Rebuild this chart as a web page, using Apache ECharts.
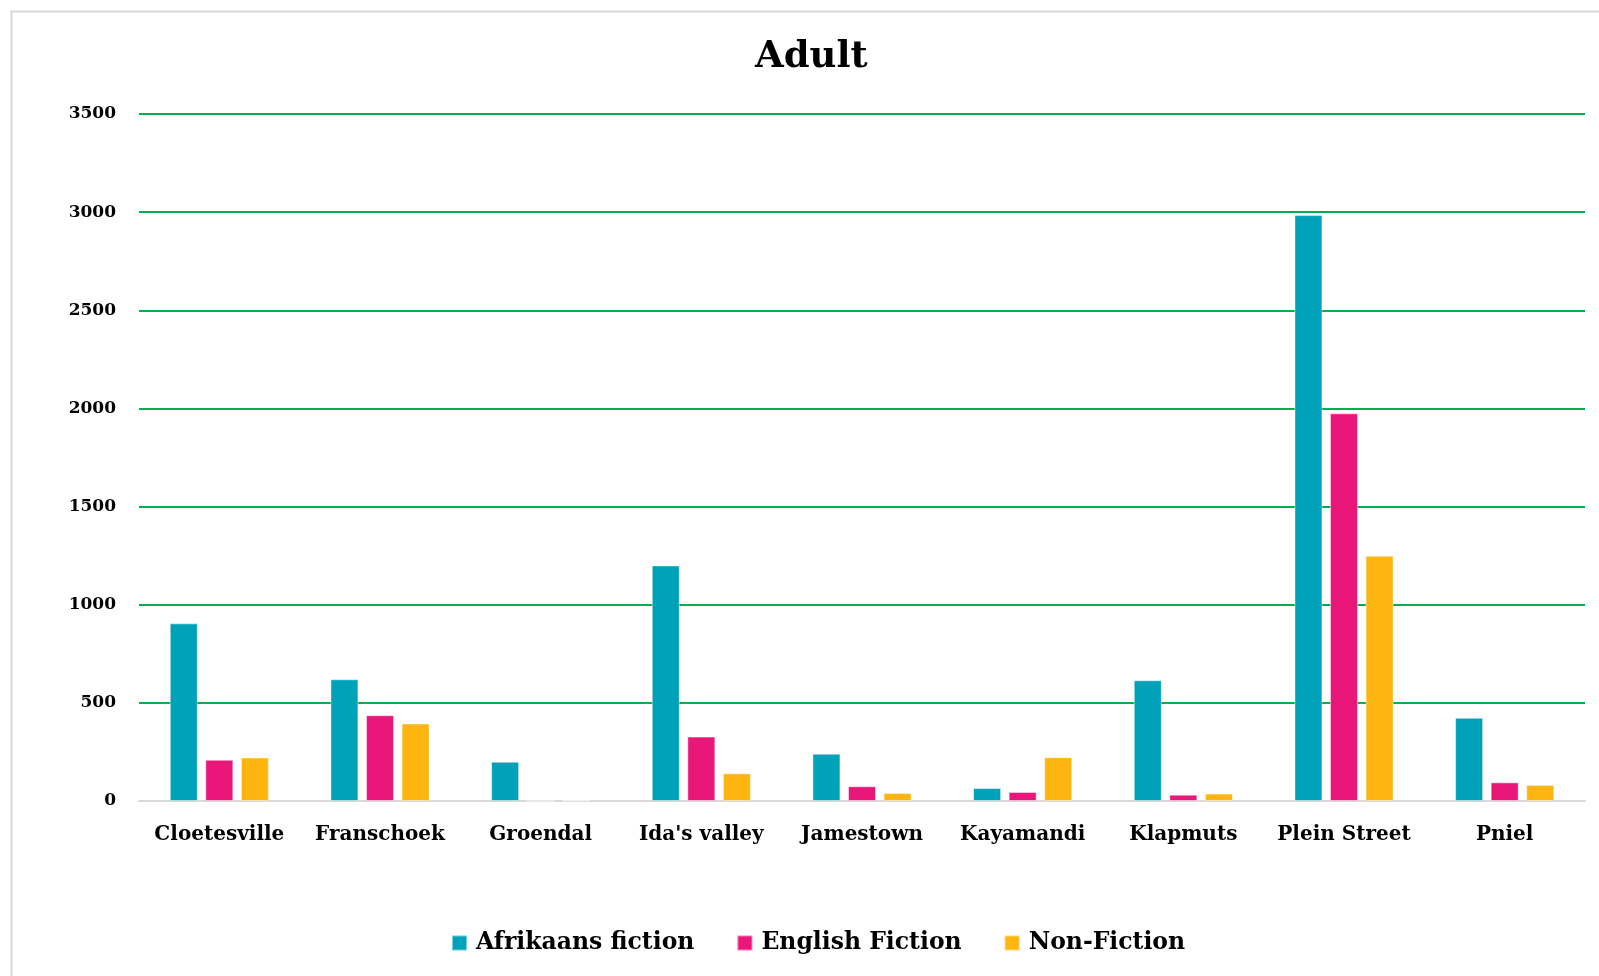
<!DOCTYPE html>
<html>
<head>
<meta charset="utf-8">
<script src="https://cdn.jsdelivr.net/npm/echarts@6/dist/echarts.min.js"></script>
<style>
html,body{margin:0;padding:0;background:#fff;}
#chart{width:1599px;height:976px;}
</style>
</head>
<body>
<div id="chart"></div>
<script>
const categories = ["Cloetesville", "Franschoek", "Groendal", "Ida's valley", "Jamestown", "Kayamandi", "Klapmuts", "Plein Street", "Pniel"];
const afrikaansFiction = [905, 620, 200, 1200, 241, 66, 615, 2985, 424];
const englishFiction = [210, 437, 0, 328, 75, 46, 32, 1975, 95];
const nonFiction = [222, 395, 3, 141, 41, 223, 38, 1250, 82];
const seriesNames = ["Afrikaans fiction", "English Fiction", "Non-Fiction"];
const colors = ["#00A2B9", "#E9177A", "#FFB50F"];

const FONT = "'DejaVu Serif', 'Liberation Serif', serif";
const chart = echarts.init(document.getElementById('chart'));
const mk = (name, data, color) => ({
  name, type: 'bar', data, barWidth: 28, barGap: '27%',
  itemStyle: { color, borderColor: 'rgba(255,255,255,0.45)', borderWidth: 1 }
});
chart.setOption({
  animation: false,
  backgroundColor: '#fff',
  textStyle: { fontFamily: FONT },
  graphic: [{
    type: 'rect', left: 9, top: 9, z: -1,
    shape: { width: 1600, height: 980 },
    style: { fill: 'none', stroke: '#d9d9d9', lineWidth: 2 }
  }],
  title: {
    text: 'Adult', left: 755, top: 39, padding: 0,
    textStyle: { fontFamily: FONT, fontWeight: 'bold', fontSize: 37, color: '#000' }
  },
  legend: {
    data: seriesNames, left: 451, top: 931, itemWidth: 15, itemHeight: 15, itemGap: 42,
    padding: 0,
    icon: 'rect',
    textStyle: { fontFamily: FONT, fontWeight: 'bold', fontSize: 23.5, color: '#000', padding: [0, 0, 0, 4] }
  },
  grid: { left: 139, right: 14, top: 114, bottom: 175, containLabel: false },
  xAxis: {
    type: 'category', data: categories,
    axisLine: { lineStyle: { color: '#d9d9d9', width: 2 } },
    axisTick: { show: false },
    axisLabel: { interval: 0, fontFamily: FONT, fontWeight: 'bold', fontSize: 20, color: '#000', margin: 24 }
  },
  yAxis: {
    type: 'value', min: 0, max: 3500, interval: 500,
    axisLine: { show: false }, axisTick: { show: false },
    splitLine: { lineStyle: { color: '#00B050', width: 2 } },
    axisLabel: { formatter: v => String(v), fontFamily: FONT, fontWeight: 'bold', fontSize: 17, color: '#000', margin: 23 }
  },
  series: [
    mk(seriesNames[0], afrikaansFiction, colors[0]),
    mk(seriesNames[1], englishFiction, colors[1]),
    mk(seriesNames[2], nonFiction, colors[2])
  ]
});
</script>
</body>
</html>
